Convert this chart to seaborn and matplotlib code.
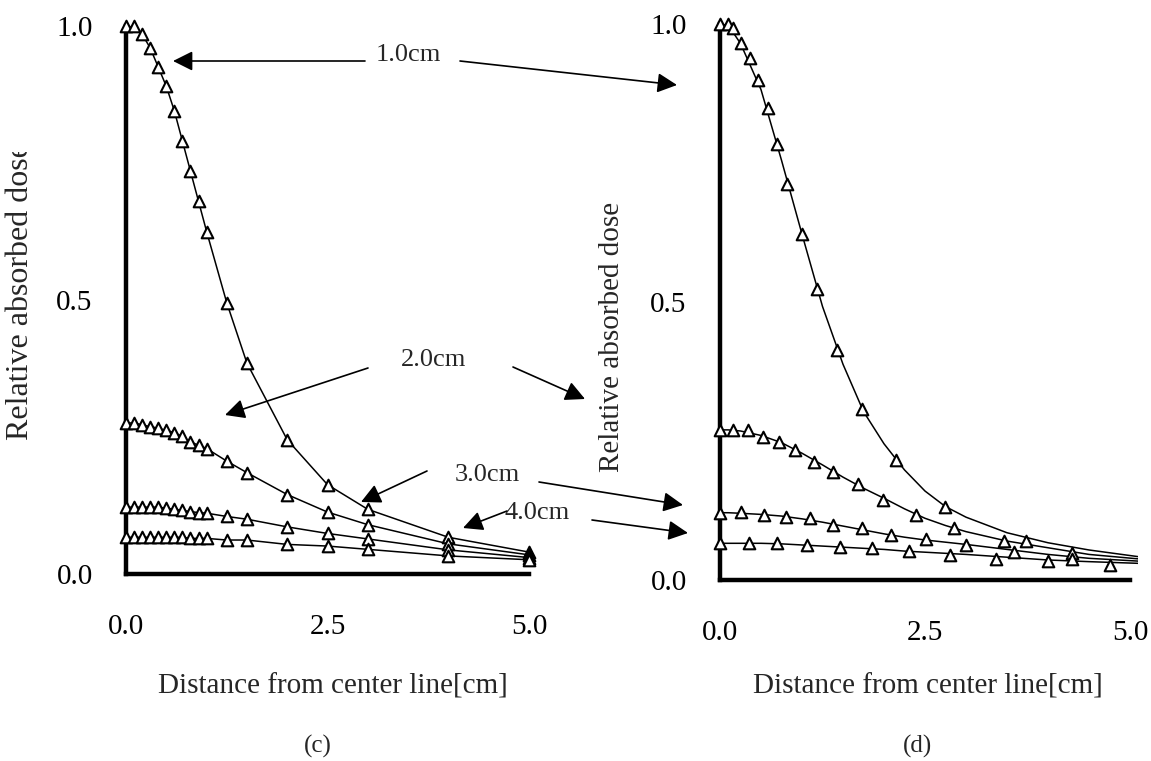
import numpy as np
import pandas as pd
import matplotlib
matplotlib.use("Agg")
import matplotlib.pyplot as plt
from matplotlib.transforms import Bbox
import seaborn as sns

# ---------------- data ----------------
series_names = ["1.0cm", "2.0cm", "3.0cm", "4.0cm"]

# panel (c): all series sampled at the same distances
c_x = [0.0, 0.1, 0.2, 0.3, 0.4, 0.5, 0.6, 0.7, 0.8, 0.9, 1.0, 1.25, 1.5, 2.0, 2.5, 3.0, 4.0, 5.0]
c_10 = [1.0, 1.0, 0.985, 0.96, 0.925, 0.89, 0.845, 0.79, 0.735, 0.68, 0.625, 0.495, 0.385, 0.245, 0.163, 0.118, 0.067, 0.040]
c_20 = [0.275, 0.276, 0.272, 0.269, 0.266, 0.262, 0.258, 0.251, 0.241, 0.235, 0.229, 0.206, 0.185, 0.145, 0.113, 0.090, 0.055, 0.035]
c_30 = [0.122, 0.122, 0.122, 0.122, 0.122, 0.120, 0.118, 0.116, 0.114, 0.112, 0.111, 0.105, 0.100, 0.086, 0.074, 0.064, 0.044, 0.030]
c_40 = [0.067, 0.067, 0.067, 0.067, 0.067, 0.067, 0.067, 0.067, 0.065, 0.065, 0.065, 0.062, 0.062, 0.054, 0.051, 0.045, 0.033, 0.026]

# panel (d): measured points (triangles)
d10_x = [0.0, 0.1, 0.16, 0.26, 0.36, 0.46, 0.58, 0.70, 0.82, 1.0, 1.18, 1.43, 1.73, 2.15, 2.75, 3.73]
d10_y = [1.0, 1.0, 0.993, 0.965, 0.938, 0.900, 0.849, 0.784, 0.712, 0.622, 0.524, 0.413, 0.308, 0.215, 0.131, 0.071]
d20_x = [0.0, 0.16, 0.34, 0.53, 0.72, 0.92, 1.15, 1.38, 1.68, 1.99, 2.39, 2.85, 3.46, 4.29]
d20_y = [0.270, 0.269, 0.269, 0.258, 0.248, 0.233, 0.212, 0.194, 0.172, 0.143, 0.117, 0.093, 0.071, 0.049]
d30_x = [0.0, 0.26, 0.54, 0.80, 1.10, 1.38, 1.73, 2.09, 2.51, 3.00, 3.59, 4.29]
d30_y = [0.120, 0.122, 0.117, 0.114, 0.111, 0.099, 0.093, 0.081, 0.073, 0.063, 0.051, 0.037]
d40_x = [0.0, 0.35, 0.70, 1.06, 1.46, 1.85, 2.31, 2.80, 3.37, 4.00, 4.76]
d40_y = [0.066, 0.067, 0.067, 0.063, 0.060, 0.057, 0.053, 0.045, 0.038, 0.035, 0.027]

# panel (d): calculated curves (solid lines)
dl_x = [0.0, 0.1, 0.25, 0.5, 0.75, 1.0, 1.25, 1.5, 1.75, 2.0, 2.25, 2.5, 2.75, 3.0, 3.5, 4.0, 4.5, 5.1]
dl_10 = [1.0, 0.998, 0.965, 0.882, 0.755, 0.622, 0.492, 0.388, 0.303, 0.245, 0.198, 0.160, 0.132, 0.113, 0.085, 0.067, 0.054, 0.042]
dl_20 = [0.270, 0.270, 0.268, 0.260, 0.247, 0.228, 0.207, 0.185, 0.165, 0.147, 0.128, 0.111, 0.098, 0.087, 0.070, 0.058, 0.046, 0.038]
dl_30 = [0.121, 0.121, 0.120, 0.118, 0.115, 0.110, 0.104, 0.097, 0.090, 0.083, 0.077, 0.072, 0.068, 0.064, 0.055, 0.046, 0.039, 0.034]
dl_40 = [0.066, 0.066, 0.066, 0.066, 0.065, 0.063, 0.061, 0.059, 0.057, 0.055, 0.052, 0.050, 0.048, 0.046, 0.041, 0.036, 0.033, 0.030]

x_ticks = [0.0, 2.5, 5.0]
x_ticklabels = ["0.0", "2.5", "5.0"]
y_ticks = [0.0, 0.5, 1.0]
y_ticklabels = ["0.0", "0.5", "1.0"]
x_label = "Distance from center line[cm]"
y_label = "Relative absorbed dose"
panel_labels = ["(c)", "(d)"]

# ---------------- style ----------------
sns.set_theme(style="white")
plt.rcParams["font.family"] = ["Liberation Serif", "DejaVu Serif"]
plt.rcParams["axes.unicode_minus"] = False

W, H = 1151, 761
fig = plt.figure(figsize=(W / 100, H / 100), dpi=100)
fig.patch.set_facecolor("white")

axL = fig.add_axes([126 / W, (H - 574) / H, 403 / W, 548 / H])
axR = fig.add_axes([720 / W, (H - 580) / H, 5.1 * 82 / W, 556 / H])

line_kw = dict(color="black", linewidth=1.1, estimator=None, sort=False, legend=False)
mark_kw = dict(marker="^", s=70, facecolor="white", edgecolor="black",
               linewidth=1.5, clip_on=False, zorder=3, legend=False)

# panel (c)
for vals in [c_10, c_20, c_30, c_40]:
    df = pd.DataFrame({"x": c_x, "y": vals})
    sns.lineplot(data=df, x="x", y="y", ax=axL, **line_kw)
    sns.scatterplot(data=df, x="x", y="y", ax=axL, **mark_kw)

# panel (d)
for vals in [dl_10, dl_20, dl_30, dl_40]:
    df = pd.DataFrame({"x": dl_x, "y": vals})
    sns.lineplot(data=df, x="x", y="y", ax=axR, **line_kw)
for xs, ys in [(d10_x, d10_y), (d20_x, d20_y), (d30_x, d30_y), (d40_x, d40_y)]:
    df = pd.DataFrame({"x": xs, "y": ys})
    sns.scatterplot(data=df, x="x", y="y", ax=axR, **mark_kw)

for ax, xmax in [(axL, 5.0), (axR, 5.1)]:
    ax.set_xlim(0, xmax)
    ax.set_ylim(0, 1.0)
    ax.set_facecolor("none")
    for s in ["top", "right"]:
        ax.spines[s].set_visible(False)
    for s in ["left", "bottom"]:
        ax.spines[s].set_linewidth(3.2)
        ax.spines[s].set_color("black")
        ax.spines[s].set_capstyle("projecting")
    ax.spines["bottom"].set_bounds(0, 5.0)
    ax.set_xticks(x_ticks)
    ax.set_xticklabels(x_ticklabels)
    ax.set_yticks(y_ticks)
    ax.set_yticklabels(y_ticklabels)
    ax.tick_params(axis="both", direction="in", length=7, width=2.5, color="black",
                   labelsize=21, labelcolor="black")
    ax.tick_params(axis="x", pad=29)
    ax.tick_params(axis="y", pad=24)
    ax.set_xlabel("")
    ax.set_ylabel("")
    ax.grid(False)

# axis titles (figure pixel coordinates)
def fx(px):
    return px / W

def fy(py):
    return (H - py) / H

fig.text(fx(333), fy(686), x_label, ha="center", va="center", fontsize=21)
fig.text(fx(928), fy(686), x_label, ha="center", va="center", fontsize=21)

# left y label is cut off at its top end in the original
tl = fig.text(fx(21), fy(440), y_label, rotation=90, ha="center", va="bottom", fontsize=23)
tl.set_clip_on(True)
tl.set_clip_box(Bbox.from_extents(0, 0, W, H - 152))
fig.text(fx(612), fy(472), y_label, rotation=90, ha="center", va="bottom", fontsize=21)

fig.text(fx(318), fy(746), panel_labels[0], ha="center", va="center", fontsize=18)
fig.text(fx(917), fy(746), panel_labels[1], ha="center", va="center", fontsize=18)

# annotation labels and arrows (image pixel coordinates)
ann_text = {"1.0cm": (408, 55), "2.0cm": (434, 360), "3.0cm": (487, 475), "4.0cm": (537, 513)}
ann_arrows = {
    "1.0cm": [((365, 61), (173, 61)), ((460, 61), (677, 85))],
    "2.0cm": [((368, 368), (225, 415)), ((513, 367), (585, 399))],
    "3.0cm": [((427, 471), (361, 502)), ((539, 482), (683, 505))],
    "4.0cm": [((507, 511), (463, 528)), ((592, 520), (688, 533))],
}
for name in series_names:
    tx, ty = ann_text[name]
    fig.text(fx(tx), fy(ty), name, ha="center", va="center", fontsize=19)
    for (x0, y0), (x1, y1) in ann_arrows[name]:
        fig.add_artist(matplotlib.patches.FancyArrowPatch(
            (fx(x0), fy(y0)), (fx(x1), fy(y1)), transform=fig.transFigure,
            arrowstyle="-|>,head_length=0.6,head_width=0.3", mutation_scale=20,
            color="black", linewidth=1.2, shrinkA=0, shrinkB=0))

fig.savefig("out.png", dpi=100, facecolor="white")
